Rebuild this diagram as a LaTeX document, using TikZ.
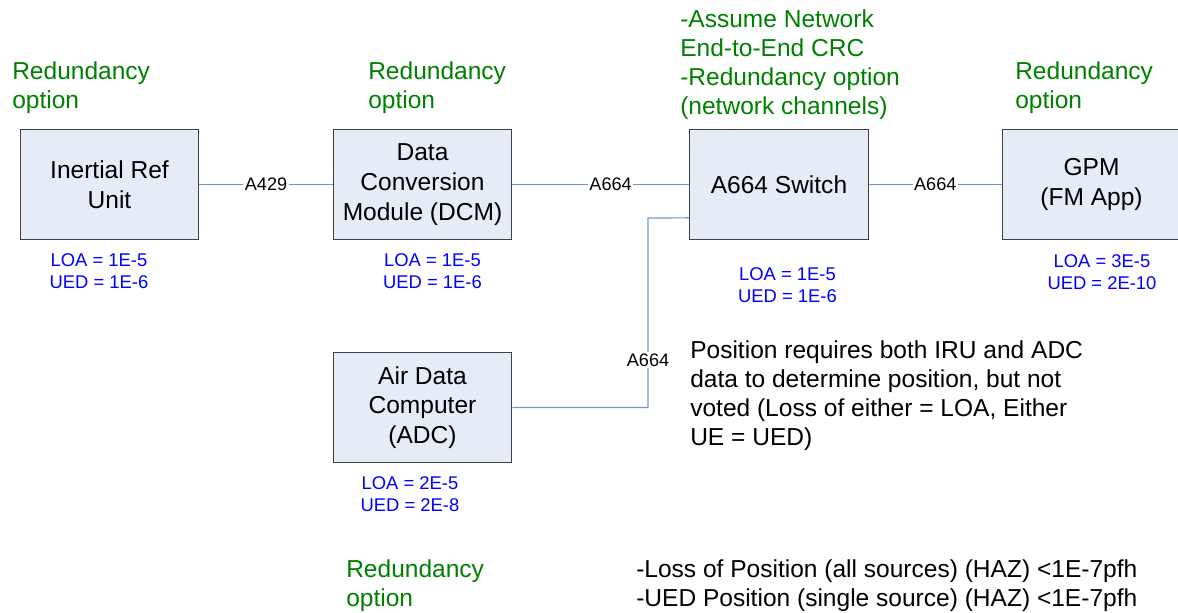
\documentclass[tikz,border=0pt]{standalone}
\usepackage{fontspec}
\setmainfont{Liberation Sans}
\definecolor{avgreen}{HTML}{008000}
\definecolor{avblue}{HTML}{0000FF}
\definecolor{avwire}{HTML}{7097CC}
\definecolor{avfill}{HTML}{E6ECF6}
\definecolor{avedge}{HTML}{404040}
\tikzset{
  lru/.style={draw=avedge, line width=0.8pt, fill=avfill, minimum width=134pt, minimum height=83pt,
    align=center, inner sep=2pt, font=\fontsize{18.4}{22.3}\selectfont},
  remark/.style={anchor=north west, inner sep=0pt, align=left, font=\fontsize{18.4}{21.8}\selectfont},
  rate/.style={text=avblue, align=center, inner sep=0pt, font=\fontsize{13.8}{16}\selectfont},
  wire/.style={draw=avwire, line width=0.9pt},
  bus/.style={fill=white, inner sep=1pt, font=\fontsize{13.6}{15}\selectfont}
}

\begin{document}
\begin{tikzpicture}[x=0.75pt, y=-0.75pt]
  \useasboundingbox (0,0) rectangle (1178,613);

  % equipment
  \node[lru] (iru) at (109.5,184.5) {Inertial Ref\\Unit};
  \node[lru] (dcm) at (422.5,184.5) {Data\\Conversion\\Module (DCM)};
  \node[lru] (sw)  at (779,184.5)   {A664 Switch};
  \node[lru] (gpm) at (1091.5,184.5) {GPM\\(FM App)};
  \node[lru] (adc) at (422.5,407.5) {Air Data\\Computer\\(ADC)};

  % links
  \draw[wire] (iru) -- node[bus] {A429} (dcm);
  \draw[wire] (dcm) -- node[bus, pos=0.556] {A664} (sw);
  \draw[wire] (sw) -- node[bus, pos=0.5] {A664} (gpm);
  \coordinate (tap) at (648,218);
  \draw[wire] ([yshift=-25pt]sw.west) -- (tap) |- node[bus, pos=0.375] {A664} (adc.east);

  % failure rates
  \node[rate] (iruR) at (99,271)    {LOA = 1E-5\\UED = 1E-6};
  \node[rate] (dcmR) at (432.5,271) {LOA = 1E-5\\UED = 1E-6};
  \node[rate] (swR)  at (787.5,285) {LOA = 1E-5\\UED = 1E-6};
  \node[rate] (gpmR) at (1102,272)  {LOA = 3E-5\\UED = 2E-10};
  \node[rate] (adcR) at (410,494)   {LOA = 2E-5\\UED = 2E-8};

  % notes
  \node[remark, text=avgreen] (n1) at (12,61)   {Redundancy\\option};
  \node[remark, text=avgreen] (n2) at (368,61)  {Redundancy\\option};
  \node[remark, text=avgreen] (n3) at (680,9)   {-Assume Network\\End-to-End CRC\\-Redundancy option\\(network channels)};
  \node[remark, text=avgreen] (n4) at (1015,61) {Redundancy\\option};
  \node[remark, text=avgreen] (n5) at (346,559) {Redundancy\\option};
  \node[remark] (pos) at (690,340) {Position requires both IRU and ADC\\data to determine position, but not\\voted (Loss of either = LOA, Either\\UE = UED)};
  \node[remark] (haz) at (636,559) {-Loss of Position (all sources) (HAZ) <1E-7pfh\\-UED Position (single source) (HAZ) <1E-7pfh};
\end{tikzpicture}
\end{document}
